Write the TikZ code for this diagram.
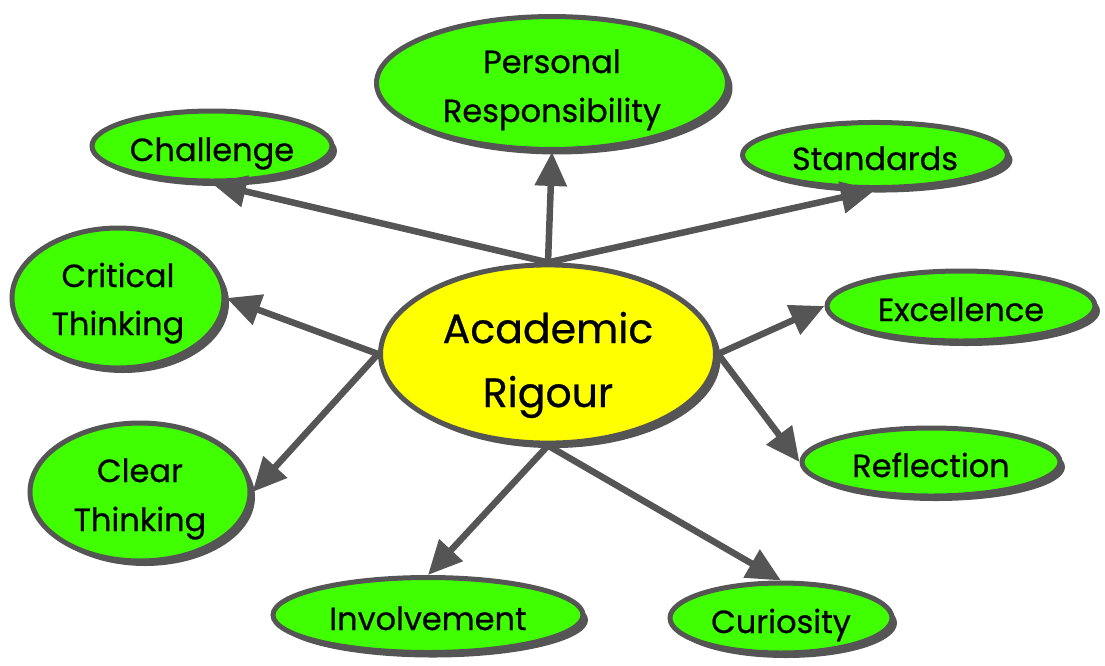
\documentclass[tikz,border=0pt]{standalone}
\usepackage{fontspec}
\setmainfont{Poppins}[FakeBold=0.6]
\usetikzlibrary{shapes.geometric,arrows.meta,shadows}
\definecolor{bord}{HTML}{555555}
\definecolor{leaf}{HTML}{40FF00}
\definecolor{hub}{HTML}{FFFF00}
\begin{document}
\begin{tikzpicture}[x=1pt,y=-1pt,
 bub/.style={ellipse, draw=bord, line width=5pt, fill=leaf, inner sep=0pt, align=center,
   font=\fontsize{32}{49}\selectfont, text height=38pt, text depth=8pt,
   drop shadow={shadow xshift=5pt, shadow yshift=-5pt, fill=bord, opacity=1}},
 two/.style={text height=86pt, text depth=8pt},
 con/.style={draw=bord, line width=6.5pt, -{Triangle[length=34pt,width=31pt]}}]
\useasboundingbox (0,0) rectangle (1105,665);
\node[bub, fill=hub, minimum width=335pt, minimum height=173pt, font=\fontsize{41}{64}\selectfont, text height=116pt, text depth=10pt] (ar) at (548,354) {Academic\\Rigour};
\node[bub, two, minimum width=351pt, minimum height=116pt] (pr) at (552,83) {Personal\\Responsibility};
\node[bub, minimum width=240pt, minimum height=70pt] (ch) at (212,146) {Challenge};
\node[bub, minimum width=265pt, minimum height=65pt] (st) at (875,155) {Standards};
\node[bub, two, text height=82pt, minimum width=212pt, minimum height=140pt, font=\fontsize{32}{48}\selectfont] (ct) at (118,298) {Critical\\Thinking};
\node[bub, minimum width=268pt, minimum height=70pt] (ex) at (961,306) {Excellence};
\node[bub, two, minimum width=220pt, minimum height=138pt] (cl) at (140,492) {Clear\\Thinking};
\node[bub, minimum width=258pt, minimum height=68pt] (re) at (931,462) {Reflection};
\node[bub, minimum width=310pt, minimum height=75pt] (in) at (428,615) {Involvement};
\node[bub, minimum width=222pt, minimum height=70pt] (cu) at (781,618) {Curiosity};
\draw[con] (ar.north) -- (pr.south);
\draw[con] (ar.north) -- (ch.south);
\draw[con] (ar.north) -- (st.south);
\draw[con] (ar.west) -- (ct.east);
\draw[con] (ar.west) -- (cl.east);
\draw[con] (ar.east) -- (ex.west);
\draw[con] (ar.east) -- (re.west);
\draw[con] (ar.south) -- (in.north);
\draw[con] (ar.south) -- (cu.north);
\end{tikzpicture}
\end{document}
